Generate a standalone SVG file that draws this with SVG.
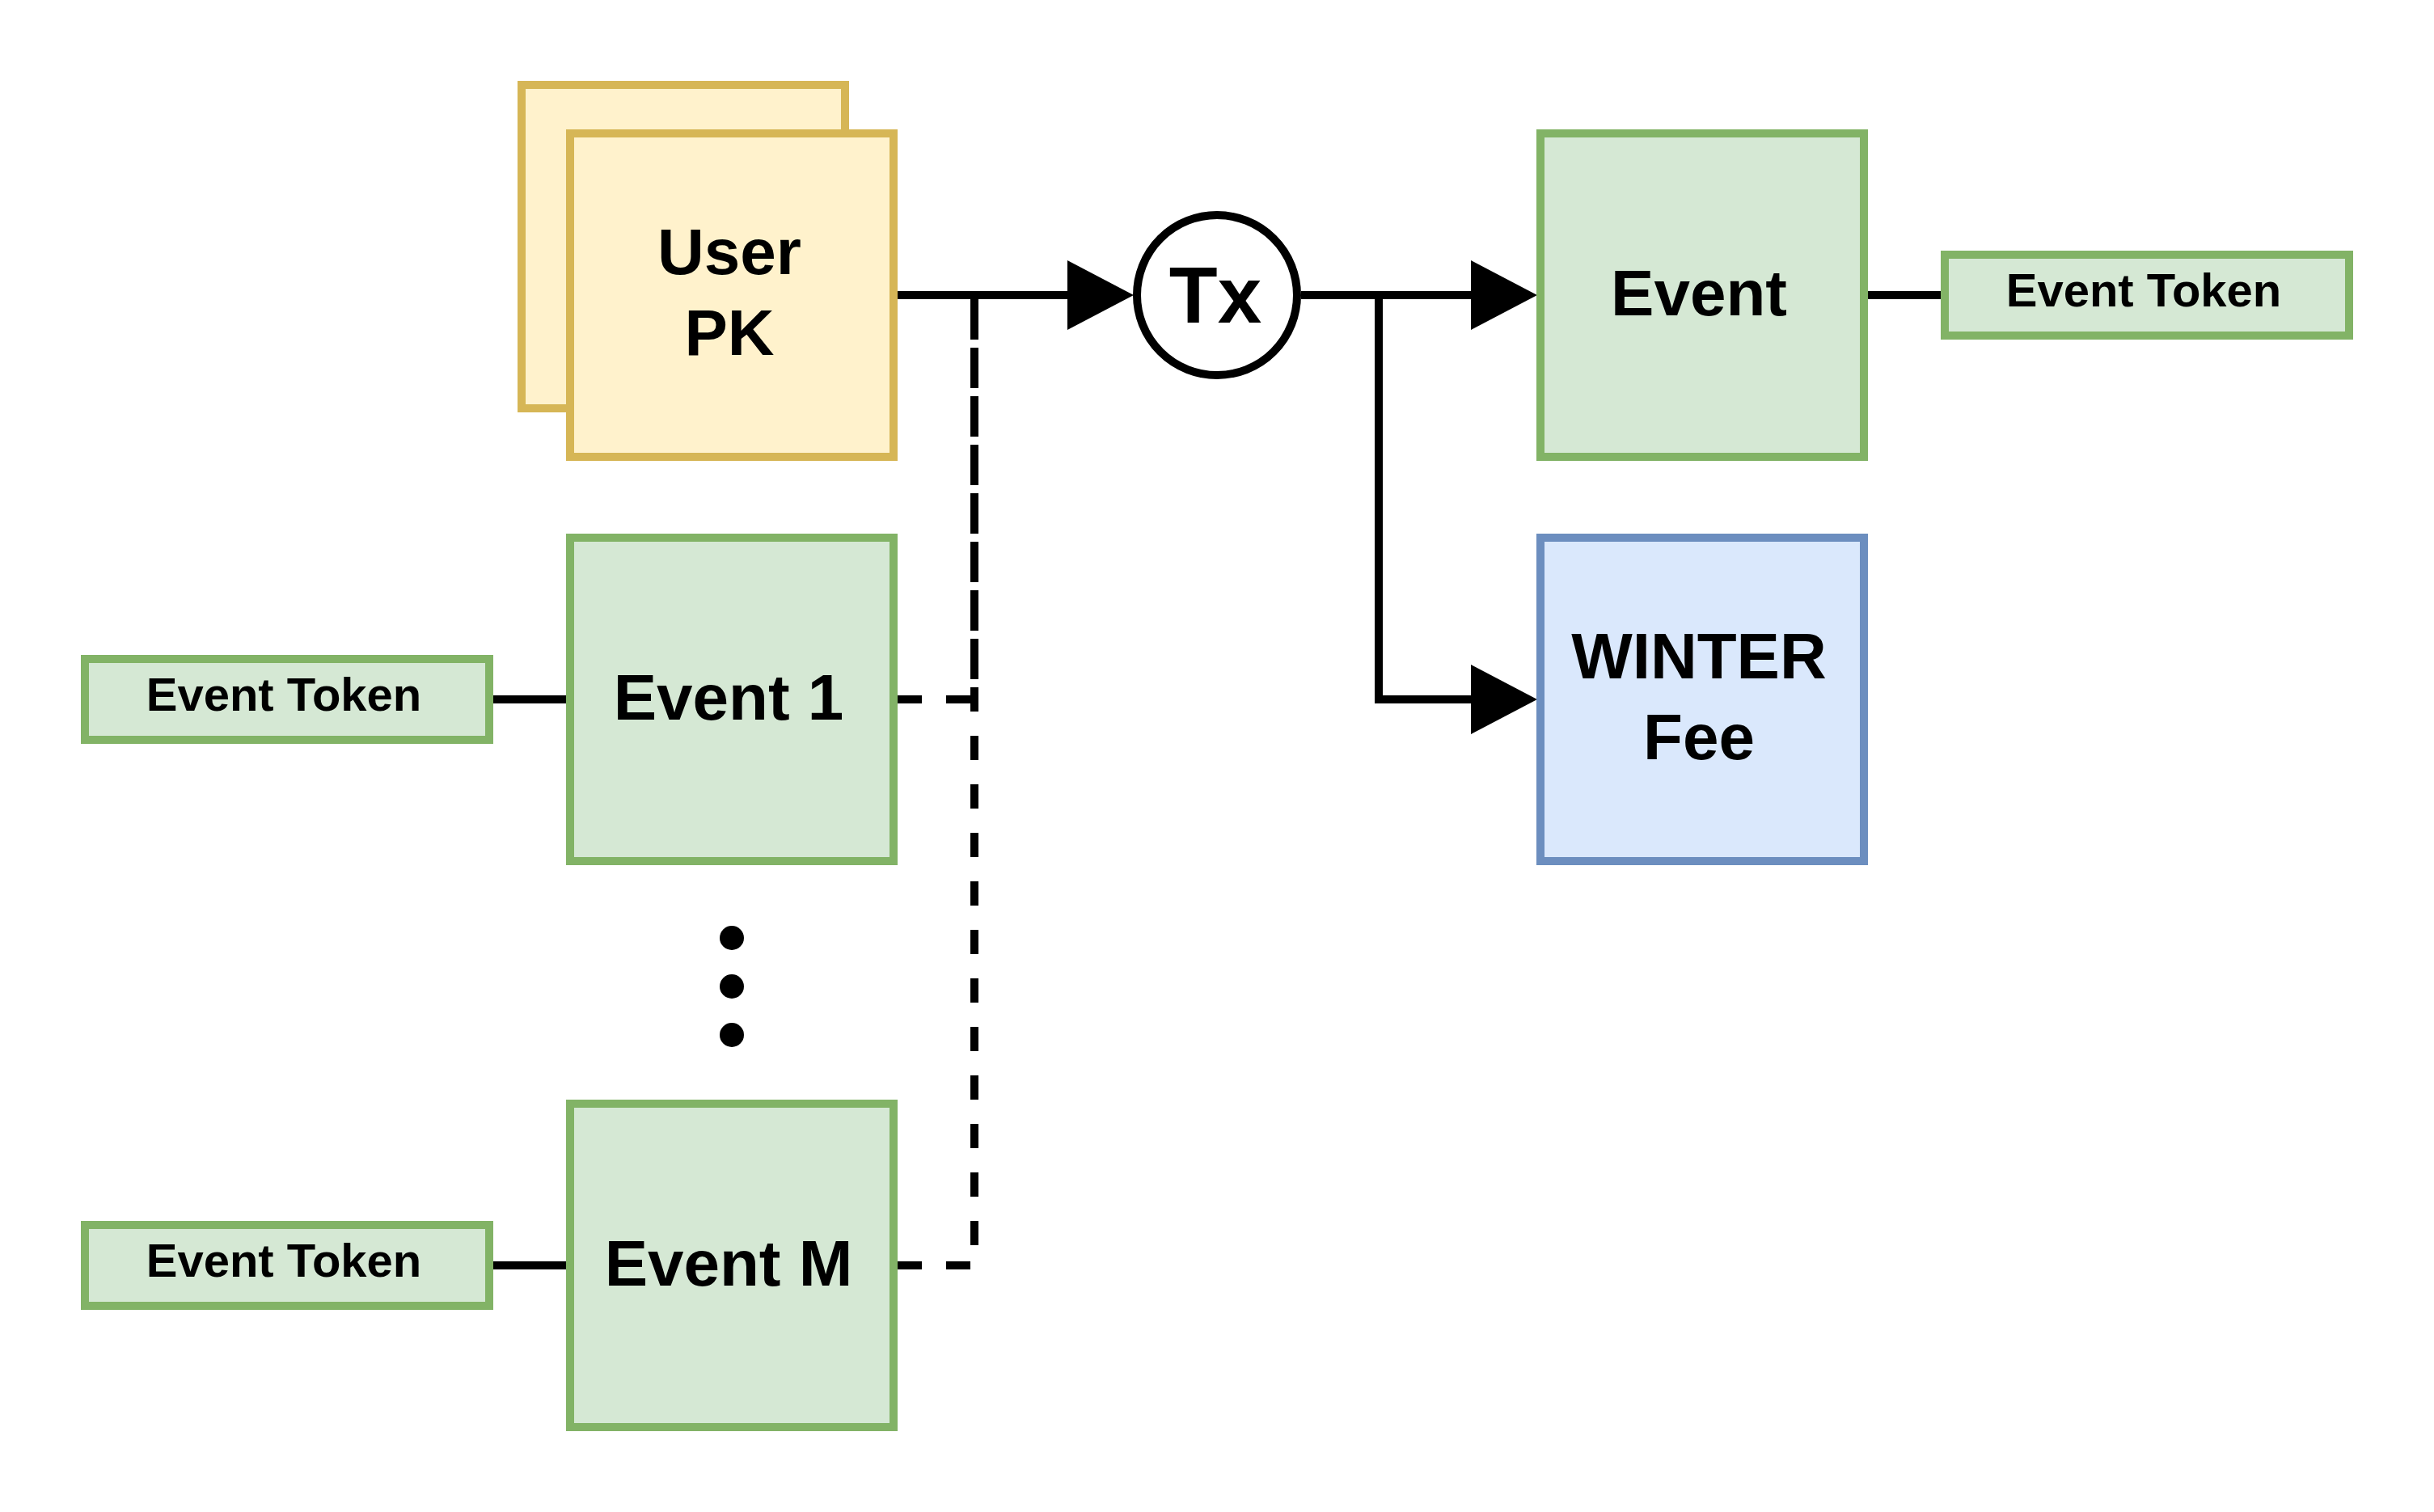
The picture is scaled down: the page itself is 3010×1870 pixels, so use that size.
<svg xmlns="http://www.w3.org/2000/svg" width="3010" height="1870" viewBox="0 0 3010 1870">
  <style>
    .yellow { fill: #fff2cc; stroke: #d6b656; stroke-width: 10; }
    .green { fill: #d5e8d4; stroke: #82b366; stroke-width: 10; }
    .blue { fill: #dae8fc; stroke: #6c8ebf; stroke-width: 10; }
    .circ { fill: #ffffff; stroke: #000000; stroke-width: 10; }
    .lbl { font-family: "Liberation Sans", Arial, Helvetica, sans-serif; font-weight: bold; fill: #000000; text-anchor: middle; }
    .big { font-size: 80px; }
    .tx { font-size: 98px; }
    .tok { font-size: 58px; }
    .line { fill: none; stroke: #000000; stroke-width: 10; }
    .dash { fill: none; stroke: #000000; stroke-width: 10; stroke-dasharray: 30 30; }
    .arrow { marker-end: url(#head); }
  </style>
  <defs>
    <marker id="head" markerUnits="userSpaceOnUse" markerWidth="84" markerHeight="88" refX="0" refY="43" orient="auto" viewBox="0 0 84 88">
      <path d="M0,0 L82,43 L0,86 Z" fill="#000000"/>
    </marker>
  </defs>
  <rect width="3010" height="1870" fill="#ffffff"/>

  <g id="connectors">
    <path class="dash" d="M1110,1565 L1205,1565 L1205,365 L1320,365"/>
    <path class="dash" d="M1110,865 L1205,865 L1205,365 L1320,365"/>
    <path class="line arrow" d="M1110,365 L1320,365"/>
    <path class="line arrow" d="M1609,365 L1819,365"/>
    <path class="line arrow" d="M1705,365 L1705,865 L1819,865"/>
    <path class="line" d="M2310,365 L2400,365"/>
    <path class="line" d="M610,865 L700,865"/>
    <path class="line" d="M610,1565 L700,1565"/>
  </g>

  <g id="user-pk">
    <rect class="yellow" x="645" y="105" width="400" height="400"/>
    <rect class="yellow" x="705" y="165" width="400" height="400"/>
    <text class="lbl big" x="902" y="339">User</text>
    <text class="lbl big" x="902" y="439">PK</text>
  </g>

  <g id="tx">
    <circle class="circ" cx="1505" cy="365" r="99"/>
    <text class="lbl tx" x="1503" y="399">Tx</text>
  </g>

  <g id="event-out">
    <rect class="green" x="1905" y="165" width="400" height="400"/>
    <text class="lbl big" x="2101" y="390">Event</text>
  </g>

  <g id="event-token-out">
    <rect class="green" x="2405" y="315" width="500" height="100"/>
    <text class="lbl tok" x="2651" y="379">Event Token</text>
  </g>

  <g id="winter-fee">
    <rect class="blue" x="1905" y="665" width="400" height="400"/>
    <text class="lbl big" x="2101" y="839">WINTER</text>
    <text class="lbl big" x="2101" y="939">Fee</text>
  </g>

  <g id="event-1">
    <rect class="green" x="705" y="665" width="400" height="400"/>
    <text class="lbl big" x="901" y="890">Event 1</text>
  </g>

  <g id="event-token-1">
    <rect class="green" x="105" y="815" width="500" height="100"/>
    <text class="lbl tok" x="351" y="879">Event Token</text>
  </g>

  <g id="ellipsis">
    <circle cx="905" cy="1160" r="15" fill="#000000"/>
    <circle cx="905" cy="1220" r="15" fill="#000000"/>
    <circle cx="905" cy="1280" r="15" fill="#000000"/>
  </g>

  <g id="event-m">
    <rect class="green" x="705" y="1365" width="400" height="400"/>
    <text class="lbl big" x="901" y="1590">Event M</text>
  </g>

  <g id="event-token-m">
    <rect class="green" x="105" y="1515" width="500" height="100"/>
    <text class="lbl tok" x="351" y="1579">Event Token</text>
  </g>
</svg>
